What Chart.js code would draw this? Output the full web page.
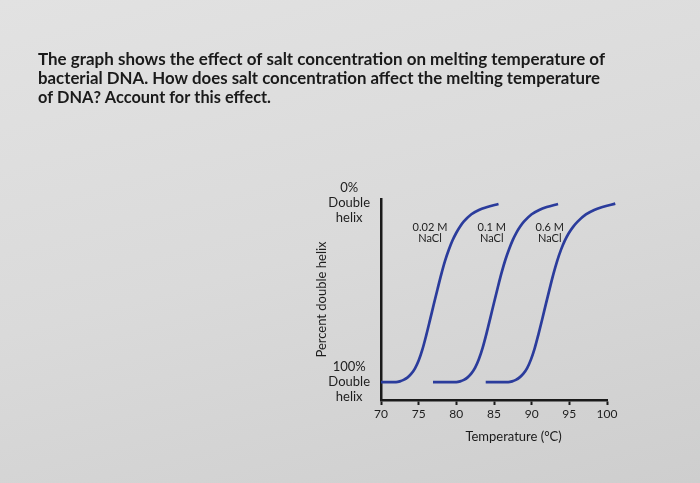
<!DOCTYPE html>
<html>
<head>
<meta charset="utf-8">
<script src="https://cdn.jsdelivr.net/npm/chart.js@4.4.0/dist/chart.umd.min.js"></script>
<style>
  html, body { margin: 0; padding: 0; }
  body {
    width: 700px; height: 483px; overflow: hidden;
    background: linear-gradient(165deg, #e2e2e2 0%, #dadada 50%, #cecece 100%);
  }
  #wrap { position: relative; width: 700px; height: 483px; }
</style>
</head>
<body>
<div id="wrap"><canvas id="meltChart" width="700" height="483"></canvas></div>
<script>
/* ---------- question text + DNA melting curves ---------- */

const questionLines = [
    "The graph shows the effect of salt concentration on melting temperature of",
    "bacterial DNA. How does salt concentration affect the melting temperature",
    "of DNA? Account for this effect."
];

// each curve: temperature (°C) vs percent double helix
const temp002 = [70.0, 72.0, 72.5, 73.0, 73.5, 74.0, 74.5, 75.0, 75.5, 76.0, 76.5, 77.0, 77.5,
                 78.0, 78.5, 79.0, 79.5, 80.0, 80.5, 81.0, 82.0, 83.0, 84.0, 85.6];
const helix002 = [100, 100, 99.6, 98.8, 97.5, 95.5, 92.5, 88.0, 81.8, 74.0, 65.5, 56.8, 48.3,
                  40.0, 32.5, 26.3, 21.0, 16.8, 13.3, 10.5, 6.5, 4.1, 2.6, 0.8];

const temp01 = [76.9, 80.0, 80.5, 81.0, 81.5, 82.0, 82.5, 83.0, 83.5, 84.0, 84.5, 85.0, 85.5,
                86.0, 86.5, 87.0, 87.5, 88.0, 88.5, 89.0, 90.0, 91.0, 92.0, 93.5];
const helix01 = [100, 100, 99.6, 98.8, 97.4, 95.2, 92.0, 87.2, 80.8, 73.0, 64.5, 55.8, 47.3,
                 39.2, 32.0, 26.0, 20.8, 16.6, 13.2, 10.5, 6.5, 4.1, 2.5, 0.8];

const temp06 = [83.9, 86.9, 87.4, 87.9, 88.4, 88.9, 89.4, 89.9, 90.4, 90.9, 91.4, 91.9, 92.4,
                92.9, 93.4, 93.9, 94.4, 94.9, 95.5, 96.1, 97.2, 98.3, 99.4, 101.1];
const helix06 = [100, 100, 99.6, 98.8, 97.4, 95.3, 92.2, 87.5, 81.2, 73.4, 65.0, 56.3, 47.8,
                 39.6, 32.3, 26.2, 21.2, 17.2, 13.5, 10.6, 6.6, 4.1, 2.5, 0.6];

const curveLabels = [["0.02 M", "NaCl"], ["0.1 M", "NaCl"], ["0.6 M", "NaCl"]];
const labelTemps = [76.5, 84.7, 92.4];
const labelHelix = 17;

const xTickValues = [70, 75, 80, 85, 90, 95, 100];
const yTickValues = [0, 100];
const yTickLabels = [["0%", "Double", "helix"], ["100%", "Double", "helix"]];

const curveColor = "#2b3c9c";
const inkColor = "#1a1a1a";

function toPoints(xs, ys) {
    //zip the two arrays into {x,y} points
    return xs.map((t, i) => ({x: t, y: ys[i]}));
}

function curve(xs, ys) {
    return {
        data: toPoints(xs, ys),
        showLine: true, borderColor: curveColor, borderWidth: 2.7,
        pointRadius: 0, cubicInterpolationMode: "monotone", clip: false
    };
}

// draws the question above and the loose labels inside the graph
const sheetText = {
    id: "sheetText",
    afterDraw(chart) {
        const ctx = chart.ctx;
        const xs = chart.scales.x, ys = chart.scales.y;
        ctx.save();
        ctx.fillStyle = inkColor;
        ctx.textBaseline = "alphabetic";
        ctx.textAlign = "left";
        ctx.font = "bold 17px Lato";
        const widths = [567, 562, 233];
        const baselines = [65, 84, 103];
        questionLines.forEach((line, i) => {
            const w = ctx.measureText(line).width;
            ctx.save();
            ctx.translate(38, baselines[i]);
            ctx.scale(widths[i] / w, 1);
            ctx.fillText(line, 0, 0);
            ctx.restore();
        });

        ctx.fillStyle = "#222";
        ctx.textAlign = "center";
        ctx.textBaseline = "middle";
        ctx.font = "11px Lato";
        curveLabels.forEach((lines, i) => {
            const cx = xs.getPixelForValue(labelTemps[i]);
            const cy = ys.getPixelForValue(labelHelix);
            ctx.fillText(lines[0], cx, cy - 5.5);
            ctx.fillText(lines[1], cx, cy + 5.5);
        });

        ctx.fillStyle = inkColor;
        ctx.font = "13px Lato";
        ctx.fillText("Temperature (°C)", xs.getPixelForValue(87.6), 437);
        ctx.restore();
    }
};

new Chart(document.getElementById("meltChart"), {
    type: "scatter",
    data: {
        datasets: [curve(temp002, helix002), curve(temp01, helix01), curve(temp06, helix06)]
    },
    options: {
        responsive: false, animation: false,
        layout: {padding: {left: 311, right: 93, top: 199, bottom: 53}},
        scales: {
            x: {
                type: "linear", min: 70, max: 100,
                afterBuildTicks: s => { s.ticks = xTickValues.map(v => ({value: v})); },
                afterFit: s => { s.height = 30; },
                ticks: {color: "#1e1e1e", font: {family: "Lato", size: 12}, padding: 2},
                grid: {display: true, drawOnChartArea: false, drawTicks: true, tickLength: 5,
                       tickColor: inkColor, tickWidth: 2},
                border: {display: true, color: inkColor, width: 2.5}
            },
            y: {
                type: "linear", reverse: true, min: -2, max: 110,
                afterBuildTicks: s => { s.ticks = yTickValues.map(v => ({value: v})); },
                afterFit: s => { s.width = 70; },
                ticks: {
                    callback: (v, i) => yTickLabels[i],
                    crossAlign: "center", color: "#1e1e1e", padding: 3,
                    font: {family: "Lato", size: 13, lineHeight: 1.15}
                },
                grid: {display: false},
                border: {display: true, color: inkColor, width: 2.5},
                title: {display: true, text: "Percent double helix", color: "#1e1e1e",
                        font: {family: "Lato", size: 13}, padding: {top: 3, bottom: 0}}
            }
        },
        plugins: {legend: {display: false}, tooltip: {enabled: false}}
    },
    plugins: [sheetText]
});
</script>
</body>
</html>
